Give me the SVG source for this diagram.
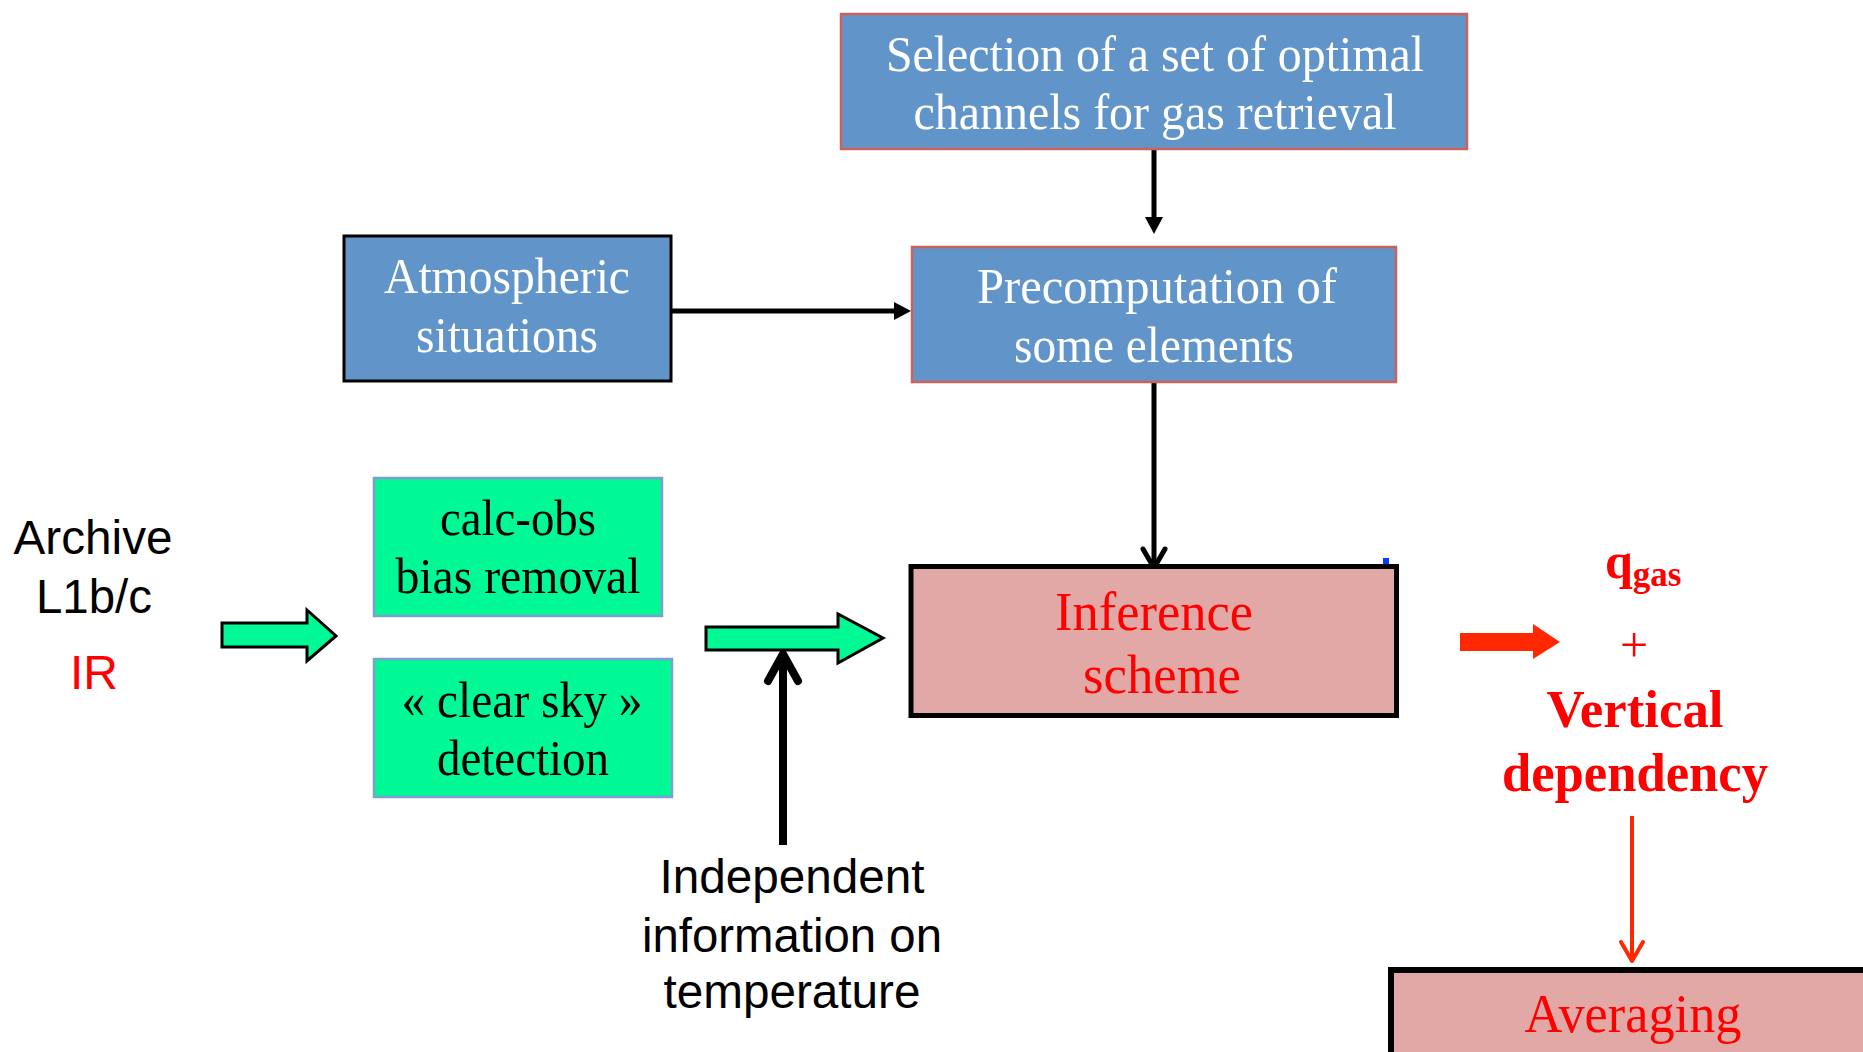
<svg xmlns="http://www.w3.org/2000/svg" width="1863" height="1052" viewBox="0 0 1863 1052">
<style>
.serif{font-family:"Liberation Serif","Times New Roman",serif;}
.sans{font-family:"Liberation Sans",Arial,sans-serif;}
.bluebox{fill:#6195C9;stroke:#CC625B;stroke-width:2.5;}
.greenbox{fill:#00F994;stroke:#7D9FD0;stroke-width:2.5;}
.pinkbox{fill:#E1A8A6;stroke:#000;stroke-width:5;}
.wt{fill:#fff;font-size:50px;text-anchor:middle;}
.bt{fill:#000;font-size:50px;text-anchor:middle;}
.rt{fill:#FF0000;font-size:54px;text-anchor:middle;}
.st{fill:#000;font-size:48px;text-anchor:middle;}
.ln{stroke:#000;stroke-width:5;fill:none;}
.open{stroke:#000;stroke-width:5;fill:none;stroke-linecap:round;stroke-linejoin:round;}
.blk{fill:#00F994;stroke:#000;stroke-width:3;stroke-linejoin:miter;}
</style>
<defs>
<marker id="head" markerUnits="userSpaceOnUse" markerWidth="18" markerHeight="18" viewBox="0 0 17 18" refX="0" refY="9" orient="auto" overflow="visible">
<path d="M0,0 L17,9 L0,18 z" fill="#000"/>
</marker>
</defs>
<rect width="1863" height="1052" fill="#fff"/>

<g id="connectors">
<line class="ln" x1="1154" y1="149" x2="1154" y2="217" marker-end="url(#head)"/>
<line class="ln" x1="672" y1="311" x2="894" y2="311" marker-end="url(#head)"/>
<line class="ln" x1="1154" y1="382" x2="1154" y2="567"/>
<polyline class="open" points="1143,549 1154,568 1165,549"/>
<polygon class="blk" points="222,623 307,623 307,610 336,636 307,661 307,647 222,647"/>
<polygon class="blk" points="706,627 838,627 838,614 883,638 838,663 838,650 706,650"/>
<line x1="783" y1="845" x2="783" y2="656" stroke="#000" stroke-width="8"/>
<polyline points="768,681 783,654 798,681" fill="none" stroke="#000" stroke-width="8" stroke-linecap="round" stroke-linejoin="round"/>
<polygon points="1460,633 1533,633 1533,624 1560,642 1533,659 1533,651 1460,651" fill="#FF2800"/>
<line x1="1632" y1="816" x2="1632" y2="960" stroke="#FF2800" stroke-width="4"/>
<polyline points="1621,942 1632,961 1643,942" fill="none" stroke="#FF2800" stroke-width="4" stroke-linecap="round" stroke-linejoin="round"/>
</g>

<g id="selection">
<rect class="bluebox" x="841" y="14" width="626" height="135"/>
<text class="serif wt" x="1155" y="71" textLength="538" lengthAdjust="spacingAndGlyphs">Selection of a set of optimal</text>
<text class="serif wt" x="1155" y="129" textLength="483" lengthAdjust="spacingAndGlyphs">channels for gas retrieval</text>
</g>

<g id="precomputation">
<rect class="bluebox" x="912" y="247" width="484" height="135"/>
<text class="serif wt" x="1157" y="303" textLength="360" lengthAdjust="spacingAndGlyphs">Precomputation of</text>
<text class="serif wt" x="1154" y="362" textLength="280" lengthAdjust="spacingAndGlyphs">some elements</text>
</g>

<g id="atmospheric">
<rect x="344" y="236" width="327" height="145" fill="#6195C9" stroke="#000" stroke-width="3"/>
<text class="serif wt" x="507" y="293" textLength="246" lengthAdjust="spacingAndGlyphs">Atmospheric</text>
<text class="serif wt" x="507" y="352" textLength="182" lengthAdjust="spacingAndGlyphs">situations</text>
</g>

<g id="archive">
<text class="sans st" x="93" y="554" textLength="159" lengthAdjust="spacingAndGlyphs">Archive</text>
<text class="sans st" x="94" y="613" textLength="116" lengthAdjust="spacingAndGlyphs">L1b/c</text>
<text class="sans st" x="94" y="689" style="fill:#FF0000">IR</text>
</g>

<g id="calcobs">
<rect class="greenbox" x="374" y="478" width="288" height="138"/>
<text class="serif bt" x="518" y="535" textLength="156" lengthAdjust="spacingAndGlyphs">calc-obs</text>
<text class="serif bt" x="518" y="593" textLength="245" lengthAdjust="spacingAndGlyphs">bias removal</text>
</g>

<g id="clearsky">
<rect class="greenbox" x="374" y="659" width="298" height="138"/>
<text class="serif bt" x="522" y="717" textLength="241" lengthAdjust="spacingAndGlyphs">« clear sky »</text>
<text class="serif bt" x="523" y="775" textLength="172" lengthAdjust="spacingAndGlyphs">detection</text>
</g>

<g id="independent">
<text class="sans st" x="792" y="893" textLength="265" lengthAdjust="spacingAndGlyphs">Independent</text>
<text class="sans st" x="792" y="952" textLength="300" lengthAdjust="spacingAndGlyphs">information on</text>
<text class="sans st" x="792" y="1008" textLength="257" lengthAdjust="spacingAndGlyphs">temperature</text>
</g>

<g id="inference">
<rect class="pinkbox" x="911" y="566.5" width="485.5" height="149"/>
<rect x="1383" y="558" width="6" height="6" fill="#0A3CFF"/>
<text class="serif rt" x="1154" y="630" textLength="198" lengthAdjust="spacingAndGlyphs">Inference</text>
<text class="serif rt" x="1162" y="693" textLength="158" lengthAdjust="spacingAndGlyphs">scheme</text>
</g>

<g id="result">
<text class="serif" x="1605" y="578" fill="#FF0000" font-weight="bold" font-size="50">q<tspan font-size="35" dy="8">gas</tspan></text>
<text class="serif" x="1634" y="662" fill="#FF0000" font-size="50" text-anchor="middle">+</text>
<text class="serif" x="1635" y="727" fill="#FF0000" font-weight="bold" font-size="53" text-anchor="middle" textLength="177" lengthAdjust="spacingAndGlyphs">Vertical</text>
<text class="serif" x="1635" y="791" fill="#FF0000" font-weight="bold" font-size="54" text-anchor="middle" textLength="266" lengthAdjust="spacingAndGlyphs">dependency</text>
</g>

<g id="averaging">
<rect class="pinkbox" x="1391" y="970" width="600" height="200" style="stroke-width:6"/>
<text class="serif rt" x="1633" y="1032" textLength="217" lengthAdjust="spacingAndGlyphs">Averaging</text>
</g>
</svg>
